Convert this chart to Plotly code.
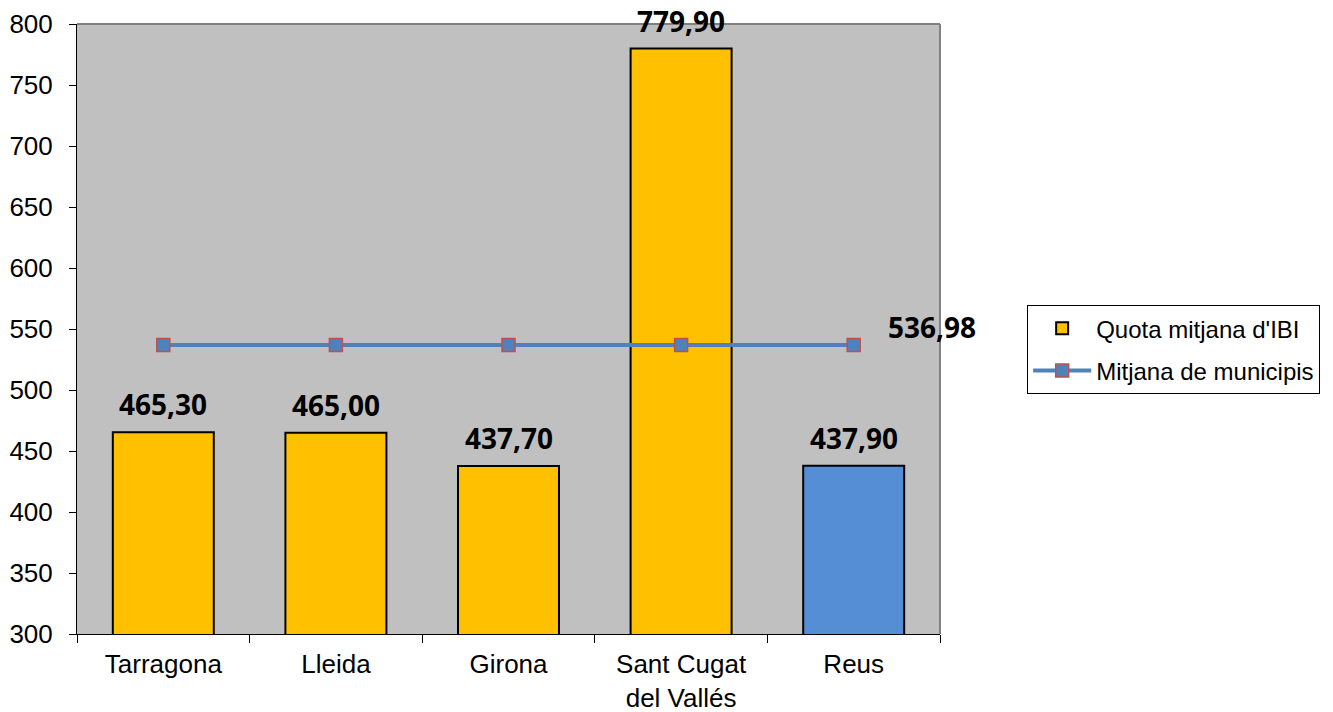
import plotly.graph_objects as go

cities = ["Tarragona", "Lleida", "Girona", "Sant Cugat<br>del Vallés", "Reus"]
quota = [465.30, 465.00, 437.70, 779.90, 437.90]
mean_value = 536.98
mean_line = [mean_value] * len(cities)
bar_colors = ["#ffc000", "#ffc000", "#ffc000", "#ffc000", "#558ed5"]

label_font = dict(family="Open Sans", size=28, color="#000000", weight="bold")


def fmt(v):
    return f"{v:.2f}".replace(".", ",")


fig = go.Figure()
fig.add_trace(go.Bar(
    x=cities,
    y=quota,
    name="Quota mitjana d'IBI",
    legendgroup="a",
    marker=dict(color=bar_colors, line=dict(color="#000000", width=2)),
))
fig.add_trace(go.Scatter(
    x=cities,
    y=mean_line,
    name="Mitjana de municipis",
    legendgroup="b",
    mode="lines+markers",
    line=dict(color="#4f81bd", width=4),
    marker=dict(symbol="square", size=13, color="#4f81bd",
                line=dict(color="#c0504d", width=1.5)),
))

# value labels above bars
for city, v in zip(cities, quota):
    fig.add_annotation(x=city, y=v, text=fmt(v), showarrow=False,
                       yanchor="middle", yshift=28, borderpad=0, font=label_font)

fig.add_annotation(
    x=cities[-1], y=mean_value, text=fmt(mean_value),
    showarrow=False, xanchor="left", xshift=33, yshift=18, borderpad=0,
    font=label_font,
)

# gray frame on top and right
fig.add_shape(type="line", xref="paper", yref="paper", x0=0, x1=1, y0=1, y1=1,
              line=dict(color="#808080", width=2))
fig.add_shape(type="line", xref="paper", yref="paper", x0=1, x1=1, y0=0, y1=1,
              line=dict(color="#808080", width=2))

fig.update_layout(
    width=1325, height=704,
    margin=dict(l=69, r=393, t=16, b=78, autoexpand=False),
    plot_bgcolor="#c0c0c0",
    paper_bgcolor="#ffffff",
    bargap=0.415,
    font=dict(family="Liberation Sans, Arial", size=26, color="#000000"),
    xaxis=dict(
        range=[-0.5, len(cities) - 0.5],
        showline=True, linecolor="#000000", linewidth=1,
        ticks="outside", tickson="boundaries", ticklen=8, tickcolor="#000000",
        ticklabelstandoff=7,
        showgrid=False, tickfont=dict(size=26), automargin=False,
    ),
    yaxis=dict(
        range=[300, 800], dtick=50,
        showline=True, linecolor="#000000", linewidth=1,
        ticks="outside", ticklen=7, tickcolor="#000000",
        ticklabelstandoff=11,
        showgrid=False, zeroline=False, tickfont=dict(size=26), automargin=False,
    ),
    legend=dict(
        x=1.101, y=0.539, xanchor="left", yanchor="top",
        bordercolor="#000000", borderwidth=1, bgcolor="#ffffff",
        font=dict(size=24), traceorder="grouped", tracegroupgap=8,
        itemwidth=58,
    ),
    showlegend=True,
)

fig.write_html("out.html")
